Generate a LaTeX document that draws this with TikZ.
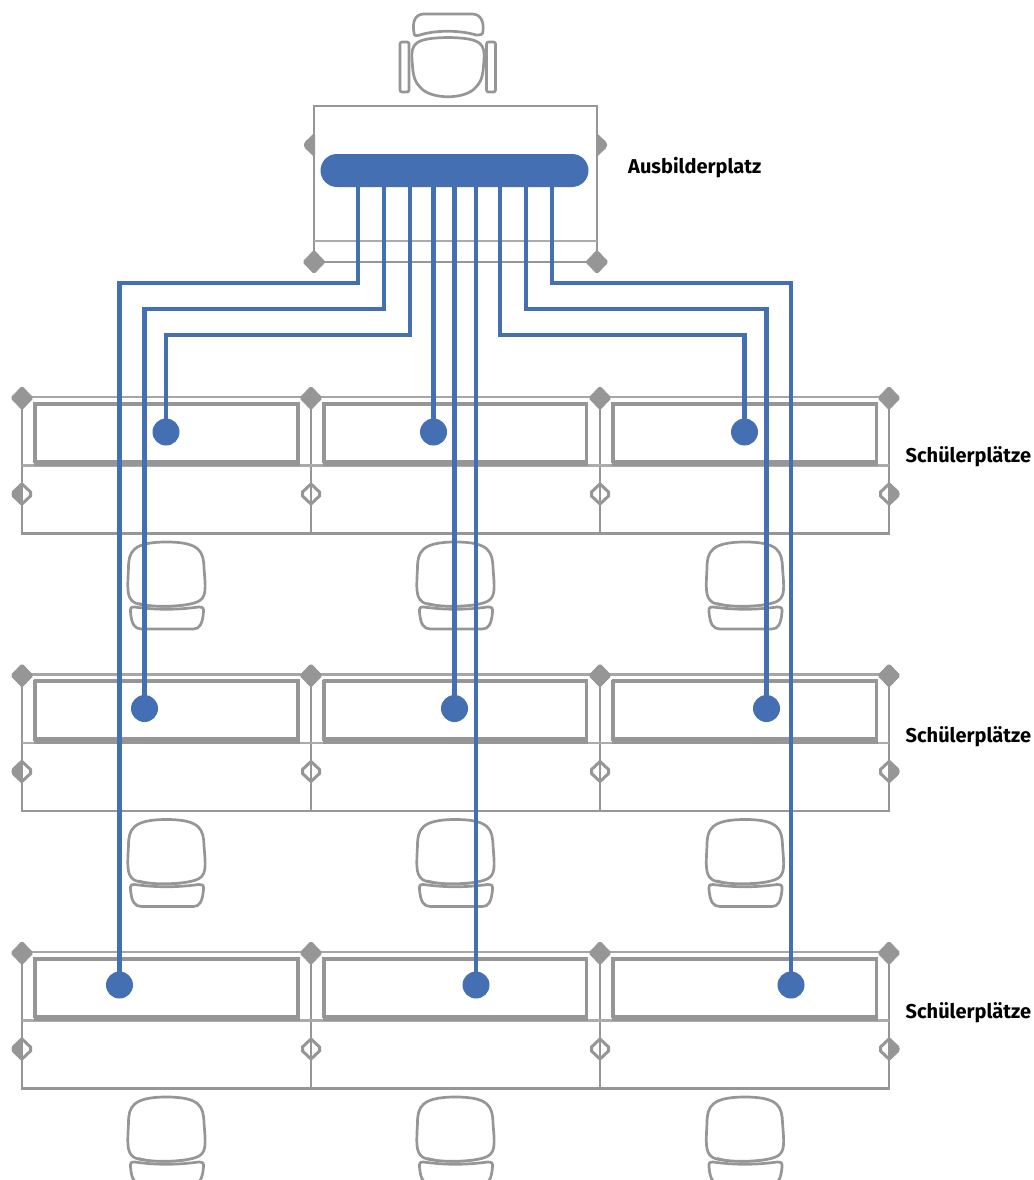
\documentclass[tikz,border=0pt]{standalone}
\usepackage{fontspec}
\setmainfont{Fira Sans}
\definecolor{gry}{HTML}{969696}
\definecolor{blu}{HTML}{446FB3}
\tikzset{
  x=1pt,y=-1pt,
  gline/.style={draw=gry,line width=2.7pt},
  wire/.style={draw=blu,line width=4.4pt,line join=miter},
  dot/.style={circle,fill=blu,draw=none,minimum size=27pt,inner sep=0pt},
  lab/.style={font=\bfseries\fontsize{20}{22}\selectfont,anchor=west,inner sep=0pt,text=black},
  dia/.style={fill=gry,draw=gry,line width=1pt,rounded corners=1.5pt},
  chairback/.pic={
    \draw[gline,line width=2.7pt] (-38,26)
      .. controls (-38,10) and (-34,0) .. (0,0)
      .. controls (34,0) and (37,10) .. (37.5,26)
      .. controls (39,45) and (40,53) .. (34,58)
      .. controls (25,66) and (-25,66) .. (-33,60)
      .. controls (-40,55) and (-39,45) .. (-38,26) -- cycle;
    \draw[gline,line width=1.8pt] (-28,61) .. controls (-10,66) and (10,66) .. (28,61);
    \draw[gline,line width=2.7pt] (-32,65)
      .. controls (-10,68) and (10,68) .. (32,65)
      .. controls (37,65) and (37,66) .. (37,70)
      .. controls (36,82) and (33,87) .. (27,87)
      -- (-25,87) .. controls (-32,87) and (-35,82) .. (-36,70)
      .. controls (-36,66) and (-36,65) .. (-32,65) -- cycle;
  }
}
\newcommand{\fulldia}[2]{\fill[dia] (#1-11,#2) -- (#1,#2-11.5) -- (#1+11,#2) -- (#1,#2+11.5) -- cycle;}
\newcommand{\openDia}[2]{%
  \draw[gline,line width=3pt] (#1-8.5,#2-2) -- (#1,#2-10) -- (#1+8.5,#2-2) -- (#1+8.5,#2+2) -- (#1,#2+10) -- (#1-8.5,#2+2) -- cycle;}
\newcommand{\halfleft}[2]{\fill[dia] (#1,#2-11.5) -- (#1-10,#2-2) -- (#1-10,#2+2) -- (#1,#2+11.5) -- cycle;}
\newcommand{\halfright}[2]{\fill[dia] (#1,#2-11.5) -- (#1+10,#2-2) -- (#1+10,#2+2) -- (#1,#2+11.5) -- cycle;}
\newcommand{\screen}[3]{% x1 x2 yoffset
  \draw[draw=gry,line width=4pt] (#1-1.5,403.5+#3) -- (#2+1.5,403.5+#3);
  \draw[draw=gry,line width=3.8pt] (#1,402+#3) -- (#1,463+#3);
  \draw[draw=gry,line width=3.8pt] (#2,402+#3) -- (#2,463+#3);
  \draw[draw=gry,line width=6.5pt] (#1-1.5,463+#3) -- (#2+1.5,463+#3);
}
\newcommand{\studrow}[1]{%
  \foreach \vx in {22,311,600,889} {\draw[gline] (\vx,398+#1) -- (\vx,533+#1);}
  \draw[gline] (20.7,533.5+#1) -- (890.3,533.5+#1);
  \draw[draw=gry!80,line width=2.2pt] (22,465.5+#1) -- (889,465.5+#1);
  \draw[draw=gry!85,line width=2.4pt] (22,397+#1) -- (889,397+#1);
  \screen{35}{298}{#1}
  \screen{324}{586.5}{#1}
  \screen{613}{876.5}{#1}
  \foreach \vx in {22,311,600,889} {\fulldia{\vx}{398+#1}\openDia{\vx}{494+#1}}
  \halfleft{22}{494+#1}
  \halfright{889}{494+#1}
  \pic at (166.5,542+#1) {chairback};
  \pic at (455.5,542+#1) {chairback};
  \pic at (745,542+#1) {chairback};
}
\begin{document}
\begin{tikzpicture}
\useasboundingbox (0,0) rectangle (1033,1180);
\clip (0,0) rectangle (1033,1180);
% instructor chair
\draw[gline] (414,33) .. controls (412,22) and (415,14) .. (424,14)
  -- (472,14) .. controls (481,14) and (484,22) .. (483,31) .. controls (483,35) and (480,35) .. (476,35)
  .. controls (460,30) and (435,30) .. (420,35) .. controls (416,36) and (414,36) .. (414,33) -- cycle;
\draw[gline] (412,60) .. controls (411,44) and (414,38) .. (448,37.5)
  .. controls (482,38) and (485,44) .. (484,60)
  .. controls (483,72) and (483,80) .. (476,87) .. controls (466,100) and (430,100) .. (420,87)
  .. controls (413,80) and (413,72) .. (412,60) -- cycle;
\draw[gline,rounded corners=2pt] (400,42) rectangle (409,92);
\draw[gline,rounded corners=2pt] (486.5,42) rectangle (495.5,92);
% instructor desk
\draw[gline] (314,262) -- (314,106) -- (597,106) -- (597,262);
\draw[draw=gry!80,line width=2.2pt] (314,241) -- (597,241);
\draw[gline] (314,262) -- (597,262);
\fulldia{314}{262}\fulldia{597}{262}
\halfleft{314.5}{145}
\halfright{596.5}{145}
% students
\studrow{0}
\studrow{277.5}
\studrow{555}
% bar
\node[fill=blu,draw=none,rounded corners=16.5pt,minimum width=268pt,minimum height=33pt,inner sep=0pt] (bar) at (454.5,170.5) {};
% dots
\node[dot] (d1) at (119.5,985) {};
\node[dot] (d2) at (144.5,708.5) {};
\node[dot] (d3) at (166,432) {};
\node[dot] (d4) at (433.5,432) {};
\node[dot] (d5) at (454.5,708.5) {};
\node[dot] (d6) at (476,985) {};
\node[dot] (d7) at (744.5,432) {};
\node[dot] (d8) at (766.5,708.5) {};
\node[dot] (d9) at (791,985) {};
% wires
\draw[wire] (358,180) coordinate (w1) -- (358,283) -| (d1.center);
\draw[wire] (384,180) coordinate (w2) -- (384,309) -| (d2.center);
\draw[wire] (410,180) coordinate (w3) -- (410,335) -| (d3.center);
\draw[wire] (433.5,180) coordinate (w4) -- (d4.center);
\draw[wire] (454.5,180) coordinate (w5) -- (d5.center);
\draw[wire] (476,180) coordinate (w6) -- (d6.center);
\draw[wire] (500,180) coordinate (w7) -- (500,335) -| (d7.center);
\draw[wire] (526,180) coordinate (w8) -- (526,309) -| (d8.center);
\draw[wire] (552,180) coordinate (w9) -- (552,283) -| (d9.center);
% labels
\node[lab] (l0) at (628,168) {Ausbilderplatz};
\node[lab] (l1) at (905.5,457) {Schülerplätze};
\node[lab] (l2) at (905.5,737) {Schülerplätze};
\node[lab] (l3) at (905.5,1013) {Schülerplätze};
\end{tikzpicture}
\end{document}
